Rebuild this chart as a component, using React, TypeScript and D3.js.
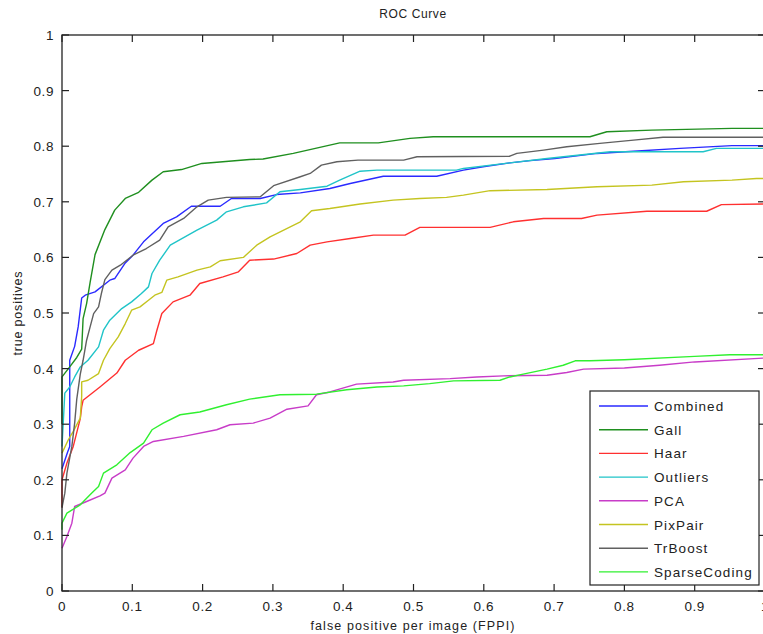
import React from "react";
import * as d3 from "d3";

type Pt = [number, number];

// ROC points: [false positives per image, true positive rate]
const combined: Pt[] = [
  [0, 0.22], [0.008, 0.25], [0.011, 0.26], [0.011, 0.415], [0.018, 0.44], [0.023, 0.475],
  [0.028, 0.527], [0.033, 0.532], [0.047, 0.538], [0.068, 0.559], [0.075, 0.562], [0.09, 0.59],
  [0.101, 0.604], [0.116, 0.628], [0.144, 0.661], [0.163, 0.673], [0.184, 0.692], [0.225, 0.692],
  [0.241, 0.706], [0.282, 0.706], [0.305, 0.713], [0.339, 0.716], [0.381, 0.724], [0.41, 0.733],
  [0.457, 0.746], [0.533, 0.746], [0.571, 0.757], [0.599, 0.763], [0.637, 0.77], [0.666, 0.774],
  [0.701, 0.778], [0.761, 0.787], [0.813, 0.791], [0.879, 0.796], [0.953, 0.801], [1.0, 0.801],
];

const gall: Pt[] = [
  [0, 0.3], [0, 0.385], [0.011, 0.403], [0.021, 0.42], [0.028, 0.435], [0.03, 0.49],
  [0.035, 0.517], [0.04, 0.555], [0.047, 0.605], [0.061, 0.65], [0.075, 0.685], [0.09, 0.706],
  [0.109, 0.717], [0.128, 0.739], [0.144, 0.754], [0.17, 0.758], [0.199, 0.769], [0.267, 0.776],
  [0.286, 0.777], [0.329, 0.787], [0.395, 0.806], [0.45, 0.806], [0.495, 0.814], [0.528, 0.817],
  [0.751, 0.817], [0.775, 0.826], [0.839, 0.829], [0.953, 0.832], [1.0, 0.832],
];

const haar: Pt[] = [
  [0, 0.15], [0, 0.2], [0.007, 0.23], [0.016, 0.26], [0.026, 0.31], [0.028, 0.331],
  [0.03, 0.343], [0.054, 0.367], [0.078, 0.392], [0.09, 0.415], [0.109, 0.433], [0.13, 0.445],
  [0.135, 0.469], [0.142, 0.499], [0.158, 0.52], [0.182, 0.532], [0.196, 0.553], [0.229, 0.565],
  [0.251, 0.574], [0.267, 0.595], [0.301, 0.597], [0.334, 0.607], [0.353, 0.622], [0.377, 0.628],
  [0.41, 0.634], [0.443, 0.64], [0.488, 0.64], [0.509, 0.654], [0.609, 0.654], [0.642, 0.664],
  [0.685, 0.67], [0.739, 0.67], [0.761, 0.676], [0.832, 0.683], [0.917, 0.683], [0.938, 0.695],
  [1.0, 0.696],
];

const outliers: Pt[] = [
  [0, 0.26], [0.004, 0.356], [0.011, 0.367], [0.018, 0.385], [0.026, 0.403], [0.037, 0.415],
  [0.052, 0.439], [0.059, 0.469], [0.068, 0.487], [0.085, 0.508], [0.099, 0.52], [0.113, 0.535],
  [0.123, 0.547], [0.128, 0.571], [0.139, 0.595], [0.154, 0.622], [0.192, 0.649], [0.22, 0.667],
  [0.234, 0.682], [0.258, 0.691], [0.291, 0.698], [0.31, 0.718], [0.339, 0.722], [0.377, 0.728],
  [0.395, 0.739], [0.424, 0.755], [0.448, 0.757], [0.561, 0.757], [0.571, 0.76], [0.637, 0.77],
  [0.69, 0.778], [0.78, 0.79], [0.912, 0.79], [0.931, 0.796], [1.0, 0.796],
];

const pca: Pt[] = [
  [0, 0.077], [0.007, 0.098], [0.014, 0.122], [0.018, 0.152], [0.035, 0.161], [0.054, 0.171],
  [0.061, 0.176], [0.071, 0.203], [0.09, 0.218], [0.101, 0.239], [0.116, 0.26], [0.13, 0.269],
  [0.173, 0.278], [0.22, 0.29], [0.239, 0.299], [0.272, 0.302], [0.296, 0.311], [0.32, 0.327],
  [0.35, 0.333], [0.362, 0.353], [0.381, 0.358], [0.419, 0.372], [0.471, 0.376], [0.486, 0.379],
  [0.552, 0.382], [0.59, 0.385], [0.628, 0.387], [0.69, 0.388], [0.718, 0.393], [0.742, 0.399],
  [0.8, 0.401], [0.85, 0.406], [0.9, 0.412], [1.0, 0.419],
];

const pixPair: Pt[] = [
  [0, 0.248], [0.009, 0.272], [0.016, 0.287], [0.026, 0.311], [0.028, 0.35], [0.028, 0.376],
  [0.037, 0.379], [0.052, 0.391], [0.059, 0.415], [0.068, 0.436], [0.08, 0.457], [0.09, 0.481],
  [0.099, 0.505], [0.111, 0.511], [0.123, 0.523], [0.132, 0.532], [0.142, 0.537], [0.149, 0.559],
  [0.165, 0.565], [0.192, 0.577], [0.211, 0.583], [0.225, 0.594], [0.258, 0.6], [0.277, 0.622],
  [0.296, 0.637], [0.339, 0.664], [0.355, 0.684], [0.381, 0.688], [0.424, 0.696], [0.471, 0.703],
  [0.509, 0.706], [0.547, 0.708], [0.571, 0.712], [0.609, 0.72], [0.69, 0.722], [0.761, 0.727],
  [0.839, 0.73], [0.884, 0.736], [0.953, 0.739], [0.988, 0.742], [1.0, 0.742],
];

const trBoost: Pt[] = [
  [0, 0.15], [0.004, 0.176], [0.007, 0.212], [0.014, 0.26], [0.018, 0.302], [0.021, 0.345],
  [0.026, 0.39], [0.03, 0.415], [0.035, 0.451], [0.04, 0.475], [0.045, 0.499], [0.052, 0.511],
  [0.056, 0.535], [0.061, 0.56], [0.071, 0.577], [0.083, 0.586], [0.101, 0.604], [0.12, 0.616],
  [0.139, 0.631], [0.151, 0.655], [0.173, 0.67], [0.192, 0.691], [0.208, 0.703], [0.234, 0.708],
  [0.282, 0.709], [0.301, 0.729], [0.339, 0.745], [0.353, 0.751], [0.369, 0.766], [0.391, 0.772],
  [0.421, 0.775], [0.486, 0.775], [0.505, 0.781], [0.637, 0.782], [0.647, 0.787], [0.685, 0.793],
  [0.718, 0.799], [0.765, 0.805], [0.813, 0.811], [0.855, 0.816], [1.0, 0.816],
];

const sparseCoding: Pt[] = [
  [0, 0.11], [0, 0.122], [0.007, 0.14], [0.026, 0.155], [0.042, 0.176], [0.052, 0.188],
  [0.059, 0.212], [0.078, 0.227], [0.097, 0.249], [0.116, 0.266], [0.128, 0.29], [0.144, 0.302],
  [0.168, 0.317], [0.196, 0.322], [0.234, 0.335], [0.267, 0.345], [0.31, 0.353], [0.362, 0.354],
  [0.405, 0.362], [0.448, 0.367], [0.486, 0.369], [0.523, 0.373], [0.557, 0.378], [0.623, 0.379],
  [0.637, 0.385], [0.656, 0.39], [0.69, 0.399], [0.713, 0.406], [0.73, 0.414], [0.751, 0.414],
  [0.8, 0.416], [0.9, 0.422], [0.95, 0.425], [1.0, 0.425],
];

const seriesNames = ["Combined", "Gall", "Haar", "Outliers", "PCA", "PixPair", "TrBoost", "SparseCoding"];
const seriesData = [combined, gall, haar, outliers, pca, pixPair, trBoost, sparseCoding];
const seriesColors = ["#2a2aff", "#1f8f1f", "#ff3030", "#20c4c8", "#c83cc8", "#c4c420", "#606060", "#30f030"];

const xTicks = [0, 0.1, 0.2, 0.3, 0.4, 0.5, 0.6, 0.7, 0.8, 0.9, 1];
const yTicks = [0, 0.1, 0.2, 0.3, 0.4, 0.5, 0.6, 0.7, 0.8, 0.9, 1];

const W = 763;
const H = 634;
const plot = { left: 62, right: 765, top: 35, bottom: 591 };
const font = "Arial, 'Liberation Sans', Helvetica, sans-serif";

export default function App() {
  const x = d3.scaleLinear().domain([0, 1]).range([plot.left, plot.right]);
  const y = d3.scaleLinear().domain([0, 1]).range([plot.bottom, plot.top]);
  const line = d3
    .line<Pt>()
    .x((d) => x(d[0]))
    .y((d) => y(d[1]));

  const tickLen = 7;
  const axisColor = "#222";
  const fmt = (v: number) => (v === 0 || v === 1 ? String(v) : v.toFixed(1));

  const legend = { x: 590, y: 391, w: 169, h: 194, row: 23.7, first: 406 };

  return (
    <svg
      width={W}
      height={H}
      style={{ position: "absolute", left: 0, top: 0, background: "#fff" }}
      fontFamily={font}
    >
      <rect x={0} y={0} width={W} height={H} fill="#fff" />

      {/* title and axis labels */}
      <text x={413} y={18} textAnchor="middle" fontSize={12} letterSpacing={0.6} fill="#222">
        ROC Curve
      </text>
      <text x={413} y={630} textAnchor="middle" fontSize={12.5} letterSpacing={1.1} fill="#222">
        false positive per image (FPPI)
      </text>
      <text
        transform={`translate(22, ${(plot.top + plot.bottom) / 2}) rotate(-90)`}
        textAnchor="middle"
        fontSize={12.5}
        letterSpacing={0.8}
        fill="#222"
      >
        true positives
      </text>

      {/* series */}
      <g fill="none" strokeWidth={1.4} strokeLinejoin="round">
        {seriesData.map((d, i) => (
          <path key={seriesNames[i]} d={line(d) ?? ""} stroke={seriesColors[i]} />
        ))}
      </g>

      {/* axes box */}
      <rect
        x={plot.left}
        y={plot.top}
        width={plot.right - plot.left}
        height={plot.bottom - plot.top}
        fill="none"
        stroke={axisColor}
        strokeWidth={1.3}
      />

      {/* ticks */}
      <g stroke={axisColor} strokeWidth={1.2}>
        {xTicks.map((t) => (
          <g key={`xt${t}`}>
            <line x1={x(t)} x2={x(t)} y1={plot.bottom} y2={plot.bottom - tickLen} />
            <line x1={x(t)} x2={x(t)} y1={plot.top} y2={plot.top + tickLen} />
          </g>
        ))}
        {yTicks.map((t) => (
          <g key={`yt${t}`}>
            <line x1={plot.left} x2={plot.left + tickLen} y1={y(t)} y2={y(t)} />
            <line x1={plot.right} x2={plot.right - tickLen} y1={y(t)} y2={y(t)} />
          </g>
        ))}
      </g>

      {/* tick labels */}
      <g fontSize={13.5} fill="#222" letterSpacing={0.6}>
        {xTicks.map((t) => (
          <text key={`xl${t}`} x={x(t)} y={611} textAnchor="middle">
            {fmt(t)}
          </text>
        ))}
        {yTicks.map((t) => (
          <text key={`yl${t}`} x={54} y={y(t) + 5} textAnchor="end">
            {fmt(t)}
          </text>
        ))}
      </g>

      {/* legend */}
      <rect x={legend.x} y={legend.y} width={legend.w} height={legend.h} fill="#fff" stroke={axisColor} strokeWidth={1.2} />
      {seriesNames.map((name, i) => {
        const ly = legend.first + i * legend.row;
        return (
          <g key={`lg${name}`}>
            <line x1={599} x2={648} y1={ly} y2={ly} stroke={seriesColors[i]} strokeWidth={1.4} />
            <text x={654} y={ly + 5} fontSize={13.5} letterSpacing={1.1} fill="#222">
              {name}
            </text>
          </g>
        );
      })}
    </svg>
  );
}
